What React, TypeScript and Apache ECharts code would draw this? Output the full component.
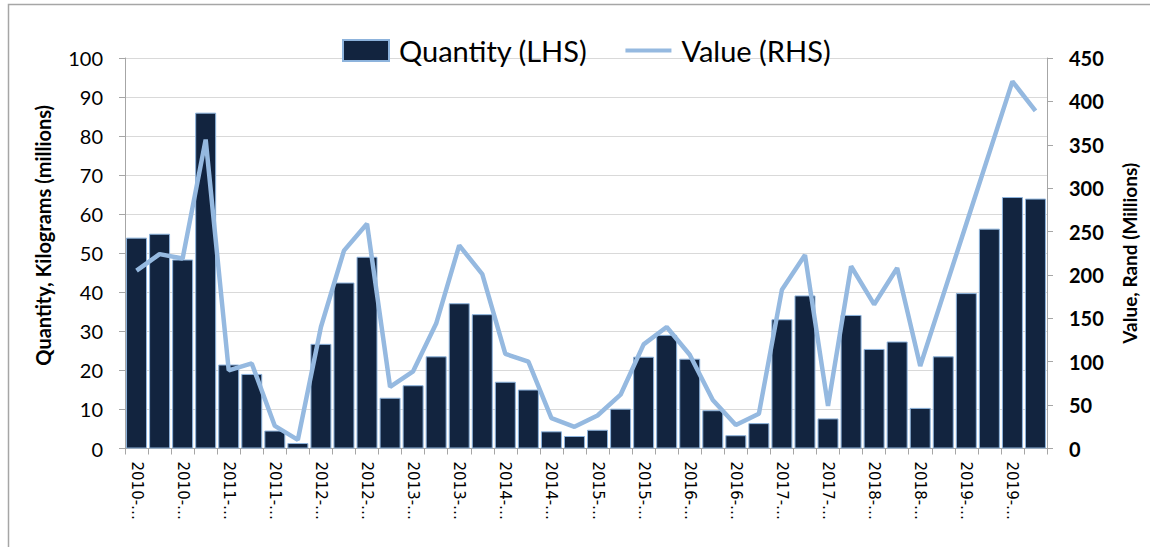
import React, { useEffect, useRef } from "react";
import * as echarts from "echarts";

const years = ["2010", "2011", "2012", "2013", "2014", "2015", "2016", "2017", "2018", "2019"];
const quarters = ["Q1", "Q2", "Q3", "Q4"];
const categories: string[] = years.flatMap((y) => quarters.map((q) => `${y}-${q}`));

const quantityLHS = [
  54.0, 55.0, 48.4, 86.0, 21.5, 19.1, 4.6, 1.4, 26.8, 42.5,
  49.1, 13.0, 16.2, 23.6, 37.2, 34.4, 17.1, 15.1, 4.4, 3.2,
  4.8, 10.2, 23.5, 29.1, 23.0, 9.8, 3.4, 6.5, 33.1, 39.2,
  7.7, 34.2, 25.5, 27.4, 10.4, 23.6, 39.8, 56.3, 64.4, 64.0,
];

const valueRHS = [
  205, 224, 219, 356, 90, 98, 26, 10, 140, 228,
  259, 71, 89, 144, 234, 201, 109, 100, 35, 25,
  38, 62, 120, 140, 108, 56, 27, 40, 183, 223,
  49, 210, 166, 208, 95, 177, 259, 341, 423, 389,
];

const FONT = "Lato, Carlito, 'Noto Sans', sans-serif";

export default function App() {
  const ref = useRef<HTMLDivElement>(null);
  useEffect(() => {
    if (!ref.current) return;
    const chart = echarts.init(ref.current, undefined, { renderer: "svg" });
    chart.setOption({
      animation: false,
      backgroundColor: "#ffffff",
      graphic: [
        {
          type: "rect",
          silent: true,
          shape: { x: 8.5, y: 4.5, width: 1300, height: 700 },
          style: { fill: "none", stroke: "#a6a6a6", lineWidth: 1.5 },
          z: 0,
        },
      ],
      legend: {
        top: 36,
        left: 342,
        padding: 0,
        itemGap: 38,
        itemWidth: 46,
        itemHeight: 21,
        textStyle: { fontFamily: FONT, fontSize: 29, color: "#000", padding: [0, 0, 0, 5] },
        data: [
          { name: "Quantity (LHS)", icon: "rect" },
          { name: "Value (RHS)", icon: "path://M0,0 L50,0 L50,4.5 L0,4.5 Z" },
        ],
      },
      grid: { left: 125, right: 103, top: 58, bottom: 98.5, containLabel: false },
      xAxis: {
        type: "category",
        data: categories,
        boundaryGap: true,
        axisLine: { lineStyle: { color: "#a6a6a6", width: 1 } },
        axisTick: { show: true, interval: 0, alignWithLabel: false, length: 6, lineStyle: { color: "#a6a6a6" } },
        axisLabel: {
          interval: 1,
          rotate: -90,
          margin: 13,
          fontFamily: "'DejaVu Sans', sans-serif",
          fontSize: 15,
          color: "#000",
          formatter: (v: string) => v.slice(0, 5) + "…",
        },
        splitLine: { show: false },
      },
      yAxis: [
        {
          type: "value",
          position: "left",
          min: 0,
          max: 100,
          interval: 10,
          name: "Quantity, Kilograms (millions)",
          nameLocation: "middle",
          nameRotate: 90,
          nameGap: 72,
          nameTextStyle: {
            fontFamily: FONT,
            fontSize: 20,
            fontWeight: "bold",
            color: "#000",
            padding: [0, 0, 0, 36],
          },
          axisLine: { show: true, lineStyle: { color: "#a6a6a6" } },
          axisTick: { show: true, length: 6, lineStyle: { color: "#a6a6a6" } },
          axisLabel: { fontFamily: FONT, fontSize: 20, color: "#000", margin: 22 },
          splitLine: { show: true, lineStyle: { color: "#d9d9d9", width: 1 } },
        },
        {
          type: "value",
          position: "right",
          min: 0,
          max: 450,
          interval: 50,
          name: "Value, Rand (Millions)",
          nameLocation: "middle",
          nameRotate: 90,
          nameGap: 73,
          nameTextStyle: { fontFamily: FONT, fontSize: 19, fontWeight: "bold", color: "#000" },
          axisLine: { show: true, lineStyle: { color: "#a6a6a6" } },
          axisTick: { show: true, length: 6, lineStyle: { color: "#a6a6a6" } },
          axisLabel: { fontFamily: FONT, fontSize: 20, fontWeight: "bold", color: "#000", margin: 22 },
          splitLine: { show: false },
        },
      ],
      series: [
        {
          name: "Quantity (LHS)",
          type: "bar",
          yAxisIndex: 0,
          data: quantityLHS,
          barCategoryGap: "9%",
          itemStyle: { color: "#12243f", borderColor: "#8db3dc", borderWidth: 1 },
        },
        {
          name: "Value (RHS)",
          type: "line",
          yAxisIndex: 1,
          data: valueRHS,
          symbol: "none",
          showSymbol: false,
          lineStyle: { color: "#95b9e0", width: 4.5 },
          itemStyle: { color: "#95b9e0" },
          z: 3,
        },
      ],
    });
    return () => chart.dispose();
  }, []);
  return (
    <div
      ref={ref}
      style={{ position: "absolute", left: 0, top: 0, width: 1150, height: 547 }}
    />
  );
}
